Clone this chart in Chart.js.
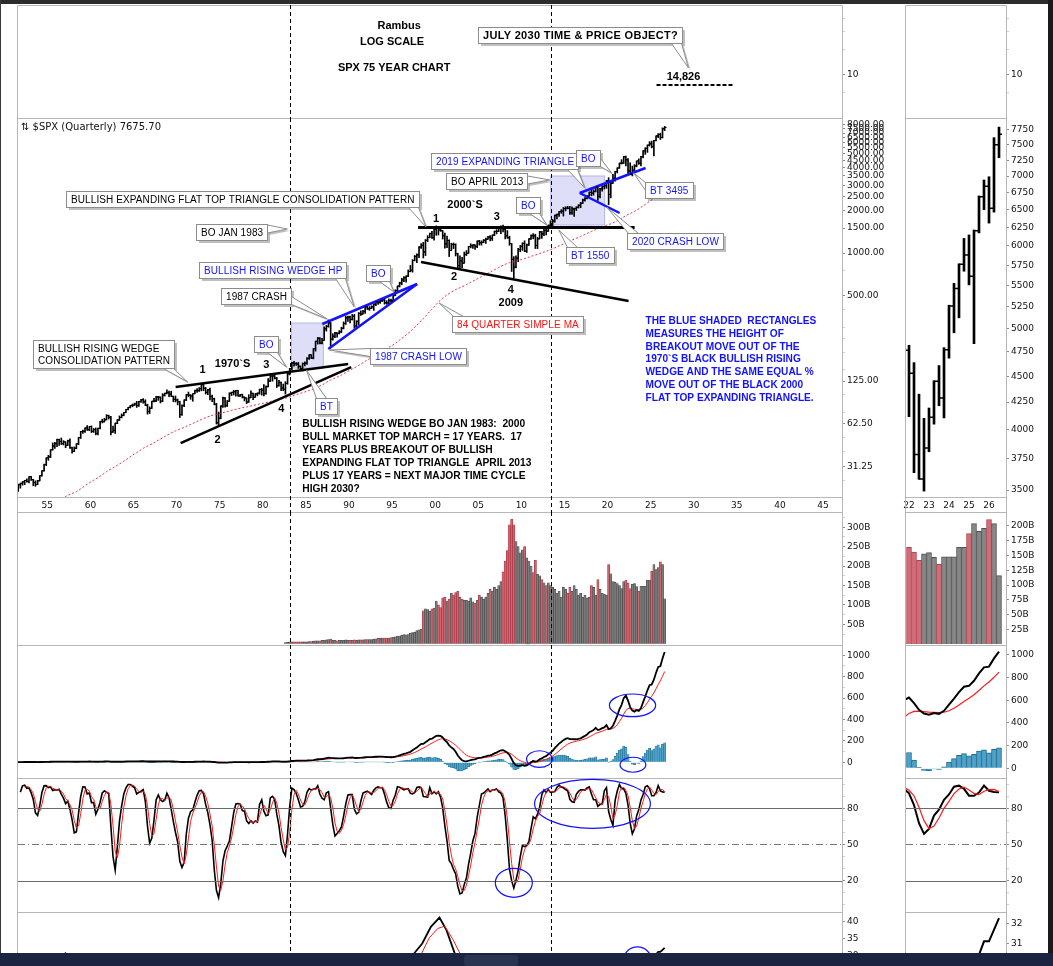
<!DOCTYPE html>
<html><head><meta charset="utf-8">
<script src="https://cdn.jsdelivr.net/npm/chart.js@4.4.0/dist/chart.umd.min.js"></script>
<style>
html,body{margin:0;padding:0;background:#fff;overflow:hidden;width:1053px;height:966px;}
#stage{position:absolute;left:0;top:0;width:1053px;height:966px;overflow:hidden;background:#fff;}
.blk{position:absolute;}
</style></head><body>
<div id="stage"></div>
<script>
// ================= DATA =================
// S&P 500 quarterly closes 1935-1947 (only used for the moving average / MACD warm-up)
const earlyClose = [
 9.0,10.3,11.9,13.4, 15.0,14.7,16.2,17.2, 18.1,15.5,14.0,10.6, 9.0,11.6,12.0,13.2,
 11.4,11.1,12.8,12.5, 12.2,10.0,10.6,10.6, 10.0,9.9,10.2,8.7, 8.3,8.3,8.9,9.8,
 11.6,12.3,12.2,11.7, 12.3,13.3,12.9,13.3, 13.5,15.1,15.8,17.4, 17.8,18.4,14.8,15.3,
 15.2,15.2,15.1,15.3
];
// quarterly close, 1948 Q1 .. 2026 Q3
const qClose = [
 15.1,16.7,15.5,15.2, 15.1,14.2,15.6,16.8, 17.3,17.7,19.5,20.4, 21.5,21.0,23.3,23.8,
 24.37,24.96,24.54,26.57, 25.29,24.14,23.35,24.81, 26.94,29.21,32.31,35.98, 36.58,41.03,43.67,45.48,
 48.48,46.97,45.35,46.67, 44.11,47.37,42.42,39.99, 42.10,45.24,50.06,55.21, 55.44,58.47,56.88,59.89,
 55.34,56.92,53.52,58.11, 65.06,64.64,66.73,71.55, 69.55,54.75,56.27,63.10, 66.57,69.37,71.70,75.02,
 78.98,81.69,84.18,84.75, 86.16,84.12,89.96,92.43, 89.23,84.74,76.56,80.33, 90.20,90.64,96.71,96.47,
 90.20,99.58,102.67,103.86, 101.51,97.71,93.12,92.06, 89.63,72.72,84.21,92.15, 100.31,99.70,98.34,102.09,
 107.20,107.14,110.55,118.05, 111.52,104.26,108.43,97.55, 93.98,86.00,63.54,68.56, 83.36,95.19,83.87,90.19,
 102.77,104.28,105.24,107.46, 98.42,100.48,96.53,95.10, 89.21,95.53,102.54,96.11, 101.59,102.91,109.32,107.94,
 102.09,114.24,125.46,135.76, 136.00,131.21,116.18,122.55, 111.96,109.61,120.42,140.64, 152.96,168.11,166.07,164.93,
 159.18,153.18,166.10,167.24, 180.66,191.85,182.08,211.28, 238.90,250.84,231.32,242.17, 291.70,304.00,321.83,247.08,
 258.89,273.50,271.91,277.72, 294.87,317.98,349.15,353.40, 339.94,358.02,306.05,330.22, 375.22,371.16,387.86,417.09,
 403.69,408.14,417.80,435.71, 451.67,450.53,458.93,466.45, 445.77,444.27,462.69,459.27, 500.71,544.75,584.41,615.93,
 645.50,670.63,687.31,740.74, 757.12,885.14,947.28,970.43, 1101.75,1133.84,1017.01,1229.23, 1286.37,1372.71,1282.71,1469.25,
 1498.58,1454.60,1436.51,1320.28, 1160.33,1224.42,1040.94,1148.08, 1147.39,989.82,815.28,879.82, 848.18,974.50,995.97,1111.92,
 1126.21,1140.84,1114.58,1211.92, 1180.59,1191.33,1228.81,1248.29, 1294.83,1270.20,1335.85,1418.30, 1420.86,1503.35,1526.75,1468.36,
 1322.70,1280.00,1166.36,903.25, 797.87,919.32,1057.08,1115.10, 1169.43,1030.71,1141.20,1257.64, 1325.83,1320.64,1131.42,1257.60,
 1408.47,1362.16,1440.67,1426.19, 1569.19,1606.28,1681.55,1848.36, 1872.34,1960.23,1972.29,2058.90, 2067.89,2063.11,1920.03,2043.94,
 2059.74,2098.86,2168.27,2238.83, 2362.72,2423.41,2519.36,2673.61, 2640.87,2718.37,2913.98,2506.85, 2834.40,2941.76,2976.74,3230.78,
 2584.59,3100.29,3363.00,3756.07, 3972.89,4297.50,4307.54,4766.18, 4530.41,3785.38,3585.62,3839.50, 4109.31,4450.38,4288.05,4769.83,
 5254.35,5460.48,5762.48,5881.63, 5611.85,6204.95,6688.46,6845.00, 6520.00,7500.00,7675.70
];
const qHigh = [
 15.4,17.1,16.9,16.2, 15.4,15.3,15.8,16.9, 17.6,19.4,19.6,20.6, 22.4,22.5,23.5,23.9,
 24.5,25.0,25.6,26.6, 26.7,25.4,24.8,25.0, 27.0,29.3,32.6,36.0, 37.5,41.1,45.9,46.4,
 48.9,48.9,49.7,47.6, 46.7,48.0,49.1,42.8, 43.0,45.3,50.1,55.3, 56.5,58.6,60.7,60.0,
 60.4,58.0,58.5,58.3, 65.1,67.4,68.5,72.6, 72.0,70.5,60.4,63.4, 67.0,71.1,73.5,75.1,
 79.1,81.7,84.3,86.3, 87.6,90.1,90.0,93.0, 94.1,92.4,86.0,82.4, 90.3,94.6,97.6,97.6,
 96.7,102.0,103.0,108.4, 106.2,106.2,98.0,98.3, 93.5,90.2,85.0,92.2, 100.6,104.8,100.4,102.2,
 108.0,110.7,112.6,119.1, 120.2,112.7,109.3,111.5, 99.8,95.0,87.1,75.7, 84.0,96.6,95.9,91.2,
 103.4,104.5,107.8,107.9, 107.5,101.1,101.3,97.0, 95.2,100.3,107.0,103.0, 102.0,103.2,109.7,111.3,
 118.4,116.0,130.4,141.0, 137.0,138.1,133.0,126.5, 123.0,119.3,124.0,143.0, 154.0,170.0,172.6,169.0,
 169.5,160.3,168.0,171.0, 183.6,192.0,192.3,212.0, 239.5,254.0,254.0,250.0, 301.9,310.0,337.9,323.0,
 270.0,276.0,274.0,284.0, 300.0,327.0,360.0,360.0, 360.0,369.0,369.0,333.0, 381.0,391.0,395.0,419.0,
 420.8,419.0,425.3,437.0, 456.0,455.6,463.6,471.0, 482.9,462.0,476.0,473.0, 503.0,551.0,586.0,623.0,
 664.0,681.0,690.0,760.0, 817.0,898.0,960.0,986.0, 1112,1163,1190,1244, 1326,1382,1420,1474,
 1553,1528,1531,1437, 1383,1316,1239,1173, 1177,1161,996,954, 932,1015,1040,1112.5,
 1163,1147,1141,1218, 1229,1219,1246,1275, 1311,1327,1340,1431, 1461,1540,1555,1576,
 1471,1440,1314,1167, 943,957,1080,1130, 1180,1220,1157,1263, 1344,1370,1356,1292,
 1420,1422,1474,1470, 1574,1687,1729,1849, 1884,1968,2019,2094, 2119,2134,2132,2116,
 2075,2120,2193,2278, 2401,2454,2520,2694, 2873,2791,2941,2940, 2861,2964,3028,3248,
 3394,3233,3588,3760, 3984,4302,4546,4808, 4818,4637,4325,4100, 4195,4455,4607,4793,
 5264,5524,5767,6100, 6147,6215,6700,6940, 6990,7620,7800
];
const qLow = [
 13.8,15.0,15.0,14.8, 14.4,13.6,14.1,15.5, 16.6,17.3,16.7,19.0, 20.3,20.9,20.9,22.0,
 23.1,23.3,24.3,24.0, 25.0,22.9,22.7,23.3, 24.8,26.8,29.0,31.7, 34.6,36.2,40.8,42.0,
 43.1,44.1,44.7,44.4, 42.4,43.9,42.0,38.9, 39.8,41.7,44.6,49.3, 53.6,54.4,56.2,55.9,
 54.3,54.4,52.3,52.2, 57.6,63.4,64.4,66.7, 67.6,52.3,54.5,53.5, 62.7,66.1,68.9,71.2,
 74.9,78.5,80.9,82.4, 84.2,81.6,83.1,88.5, 87.4,84.0,73.2,73.9, 80.2,89.2,89.5,91.5,
 87.7,89.5,98.1,101.6, 97.2,97.2,89.5,89.2, 85.0,69.3,71.8,82.5, 91.2,97.0,93.1,90.2,
 101.6,104.0,105.8,106.8, 107.0,101.4,100.5,92.2, 89.5,85.0,62.3,60.9, 67.8,81.7,82.1,82.9,
 89.9,98.9,99.9,97.8, 97.8,97.6,95.1,90.7, 86.9,88.5,95.5,92.5, 96.1,98.4,101.2,99.6,
 98.2,101.2,113.8,124.2, 125.0,129.5,112.8,115.3, 107.3,107.0,101.4,118.9, 138.3,149.9,159.2,161.5,
 153.6,147.8,147.3,160.0, 163.7,178.0,180.0,179.5, 203.5,228.0,228.5,229.0, 242.0,281.5,300.0,216.5,
 243.0,253.0,255.0,269.0, 275.0,292.0,314.0,330.0, 322.0,337.0,295.0,294.5, 311.0,363.0,371.0,375.0,
 400.0,394.5,405.0,394.0, 425.0,433.5,441.4,456.0, 436.0,435.9,441.0,445.0, 457.0,500.0,543.0,576.0,
 597.0,627.0,624.0,682.0, 737.0,733.0,880.0,855.0, 927,1076,923,959, 1205,1279,1268,1233,
 1333,1339,1421,1254, 1081,1091,944,1038, 1074,953,775,768, 788,847,960,995,
 1087,1077,1060,1090, 1137,1136,1184,1168, 1245,1219,1225,1325, 1364,1416,1370,1407,
 1257,1270,1133,741, 667,784,869,1020, 1044,1022,1010,1131, 1249,1259,1075,1074,
 1257,1267,1325,1343, 1420,1536,1560,1647, 1737,1814,1904,1821, 1981,2044,1867,1872,
 1810,1992,2074,2084, 2234,2322,2405,2515, 2533,2553,2691,2347, 2444,2729,2822,2855,
 2192,2447,3095,3210, 3662,3954,4234,4279, 4115,3637,3584,3492, 3809,4048,4216,4104,
 4683,4953,5119,5674, 5505,4835,6175,6500, 6310,6465,7290
];
// quarterly volume (billions), 1982 Q3 .. 2026 Q3
const volumeB = [
 3,4, 5,5,5,5, 5,5,5,5, 5,6,6,7, 8,8,8,9, 9,10,11,12, 9,9,8,9, 9,9,10,9, 9,9,10,9,
 10,10,10,11, 11,11,11,12, 13,14,14,15, 15,15,15,16, 17,18,20,20, 22,24,23,24, 27,29,30,34,
 36,38,85,90, 88,84,90,92, 110,100,93,118, 120,110,115,130, 125,132,135,120, 115,112,112,110,
 118,108,105,112, 125,120,115,120, 130,140,135,145, 140,150,160,185, 213,240,306,321,
 306,263,250,234, 242,250,221,213, 200,183,215,179, 175,165,157,150, 157,150,145,140,
 130,135,120,145, 140,130,145,135, 150,140,125,130, 120,125,118,120, 150,145,125,165,
 140,130,128,125, 204,180,160,158, 155,150,142,160, 164,156,142,153, 155,147,135,148,
 148,148,164,164, 187,204,191,196, 211,204,116
];
// lower indicator panel: year positions and values
const lowerYears = [1951, 1954, 1956.5, 1957.1, 1957.6, 1960, 1965, 1970, 1975, 1980, 1985, 1990, 1995,
  1997.5, 1998.5, 1999.5, 2000.5, 2001.3, 2002.3, 2003.5, 2007, 2009, 2012, 2015, 2018, 2020, 2022,
  2023.5, 2025.0, 2025.625, 2025.875, 2026.125, 2026.625];
const lowerBlack = [24, 27, 29.5, 30.7, 28.5, 26, 27, 22, 12, 10, 15, 19, 24,
  30.5, 33.6, 38.5, 41.2, 37.6, 30.5, 26, 27, 16, 22, 26, 28, 27, 29,
  27, 29.5, 30.4, 31.1, 31.1, 32.3];
const lowerRedYears = [1951, 1960, 1970, 1980, 1990, 1995, 1997, 1998.3, 1999.3, 2000.3, 2001.1, 2002.1, 2003.0,
  2005, 2010, 2015, 2020, 2024, 2026.625];
const lowerRed = [23, 25, 22, 11, 17, 22, 27, 30, 35.2, 38, 38.7, 34.6, 30, 26, 20, 24, 26, 27, 29];

// tick labels
const mainYearTicks = [1955,1960,1965,1970,1975,1980,1985,1990,1995,2000,2005,2010,2015,2020,2025,2030,2035,2040,2045];
const insetYearTicks = [2022,2023,2024,2025,2026];
const priceTickVals = [31.25,62.5,125,500,1000,1500,2000,2500,3000,3500,4000,4500,5000,5500,6000,6500,7000,7500,8000];
const insetPriceTickVals = [3500,3750,4000,4250,4500,4750,5000,5250,5500,5750,6000,6250,6500,6750,7000,7250,7500,7750];
const volTickVals = [50,100,150,200,250,300];
const insetVolTickVals = [25,50,75,100,125,150,175,200];
const macdTickVals = [0,200,400,600,800,1000];
const stochTickVals = [20,50,80];
const lowerTickVals = [30,35,40];
const insetLowerTickVals = [30,31,32];

// ================= DERIVED SERIES =================
const allClose = earlyClose.concat(qClose);
const N = allClose.length;
const hl0 = earlyClose.length;                 // index of 1948 Q1
const qx = i => 1935 + Math.floor(i / 4) + (i % 4) * 0.25 + 0.125;   // mid-quarter position
const ALLX = allClose.map((_, i) => qx(i));

function emaOf(arr, n) { const k = 2 / (n + 1); const out = []; let e = arr[0];
  arr.forEach((v, i) => { e = i === 0 ? v : v * k + e * (1 - k); out.push(e); }); return out; }
const ema12 = emaOf(allClose, 12), ema26 = emaOf(allClose, 26);
const macd = ema12.map((v, i) => v - ema26[i]);
const signal = emaOf(macd, 9);
const hist = macd.map((v, i) => v - signal[i]);
const sma84 = [];
for (let i = 83; i < N; i++) { let s = 0; for (let j = i - 83; j <= i; j++) s += allClose[j]; sma84.push({x: ALLX[i], y: s / 84}); }
const fastK = new Array(N).fill(null), slowK = new Array(N).fill(null), slowD = new Array(N).fill(null);
for (let i = hl0 + 13; i < N; i++) { let hh = -1e9, ll = 1e9;
  for (let j = i - 13; j <= i; j++) { hh = Math.max(hh, qHigh[j - hl0]); ll = Math.min(ll, qLow[j - hl0]); }
  fastK[i] = (allClose[i] - ll) / (hh - ll) * 100; }
for (let i = 2; i < N; i++) { if (fastK[i-2] != null) slowK[i] = (fastK[i] + fastK[i-1] + fastK[i-2]) / 3; }
for (let i = 2; i < N; i++) { if (slowK[i-2] != null) slowD[i] = (slowK[i] + slowK[i-1] + slowK[i-2]) / 3; }
const pts = (arr, from) => { const o = []; for (let i = from || 0; i < N; i++) if (arr[i] != null) o.push({x: ALLX[i], y: arr[i]}); return o; };
const volStart = (1982 - 1935) * 4 + 2;
const volIsDown = volumeB.map((v, k) => allClose[volStart + k] < allClose[volStart + k - 1]);

// ================= PLUGINS =================
const CFG = {};
const BLUE = '#1212ff', RED = '#ff1414';
const FONT = '"Liberation Sans", Arial, sans-serif';
const framePlugin = { id: 'frame', afterDatasetsDraw(chart) {
  const cfg = CFG[chart.canvas.id]; const a = chart.chartArea, ctx = chart.ctx;
  ctx.save(); ctx.strokeStyle = '#b7b7b7'; ctx.lineWidth = 1; ctx.beginPath();
  const L = Math.round(a.left) - 0.5, R = Math.round(a.right) + 0.5, T = Math.round(a.top) + 0.5, B = Math.round(a.bottom) - 0.5;
  ctx.moveTo(L, B + 20); ctx.lineTo(L, T); ctx.lineTo(R, T); ctx.lineTo(R, B + 20);
  if (cfg.bottomEdge) { ctx.moveTo(L, B); ctx.lineTo(R, B); }
  ctx.stroke();
  if (cfg.legend) { ctx.font = '10px "DejaVu Sans"'; ctx.fillStyle = '#111'; ctx.textBaseline = 'middle'; ctx.fillText(cfg.legend, a.left + 3, a.top + 9); }
  ctx.restore(); } };
function drawCallout(ctx, n, X, Y) {
  ctx.font = n.f || ('10px ' + FONT); ctx.letterSpacing = n.ls || '0.1px';
  const lines = Array.isArray(n.s) ? n.s : [n.s]; const lh = 12;
  const tw = Math.max(...lines.map(l => ctx.measureText(l).width));
  const w = Math.round(tw + 9), h = Math.round(lines.length * lh + 4);
  const L = Math.round(X(n.x)) + 0.5, T = Math.round(Y(n.y)) + 0.5, R = L + w, B = T + h;
  const tx = X(n.tx), ty = Y(n.ty);
  const outX = tx < L ? L - tx : (tx > R ? tx - R : 0), outY = ty < T ? T - ty : (ty > B ? ty - B : 0);
  let p1, p2;
  if (outY >= outX) { const ey = ty > B ? B : T; const cx = Math.min(Math.max(tx, L + 6), R - 6); p1 = [cx - 5, ey]; p2 = [cx + 5, ey]; }
  else { const ex = tx > R ? R : L; const cy = Math.min(Math.max(ty, T + 4), B - 4); p1 = [ex, cy - 4]; p2 = [ex, cy + 4]; }
  ctx.fillStyle = 'rgba(0,0,0,0.25)'; ctx.fillRect(L + 2.5, T + 2.5, w, h);
  ctx.beginPath(); ctx.moveTo(p1[0] + 2, p1[1] + 2); ctx.lineTo(tx + 2, ty + 2); ctx.lineTo(p2[0] + 2, p2[1] + 2); ctx.closePath(); ctx.fill();
  ctx.fillStyle = '#fff'; ctx.strokeStyle = '#8c8c8c'; ctx.lineWidth = 1;
  ctx.beginPath(); ctx.moveTo(p1[0], p1[1]); ctx.lineTo(tx, ty); ctx.lineTo(p2[0], p2[1]); ctx.closePath(); ctx.fill(); ctx.stroke();
  ctx.fillRect(L, T, w, h); ctx.strokeRect(L, T, w, h);
  ctx.fillStyle = n.c || '#000'; ctx.textBaseline = 'middle'; ctx.textAlign = 'left';
  lines.forEach((l, i) => ctx.fillText(l, L + 4.5, T + 2.5 + lh * (i + 0.5)));
}
function drawNotes(chart, below) {
  const cfg = CFG[chart.canvas.id]; if (!cfg) return;
  const ctx = chart.ctx, a = chart.chartArea, xs = chart.scales.x, ys = chart.scales.y;
  const X = v => xs.getPixelForValue(v), Y = v => ys.getPixelForValue(v);
  for (const n of cfg.notes) {
    if ((n.t === 'rect') !== below) continue;
    ctx.save();
    if (n.t === 'rect') {
      const x1 = X(n.x1), x2 = X(n.x2), y1 = Y(n.y1), y2 = Y(n.y2);
      ctx.fillStyle = 'rgba(205,205,245,0.65)'; ctx.strokeStyle = '#b4b4ea'; ctx.lineWidth = 1;
      ctx.fillRect(x1, y2, x2 - x1, y1 - y2); ctx.strokeRect(x1, y2, x2 - x1, y1 - y2);
    } else if (n.t === 'vdash') {
      const x = Math.round(X(n.x)) + 0.5; ctx.strokeStyle = '#000'; ctx.lineWidth = 1; ctx.setLineDash([4, 3]);
      ctx.beginPath(); ctx.moveTo(x, a.top); ctx.lineTo(x, a.bottom + cfg.extraBottom); ctx.stroke();
    } else if (n.t === 'hline') {
      const y = Math.round(Y(n.y)) + 0.5; ctx.strokeStyle = n.c || '#666'; ctx.lineWidth = 1; if (n.dash) ctx.setLineDash(n.dash);
      ctx.beginPath(); ctx.moveTo(a.left, y); ctx.lineTo(a.right, y); ctx.stroke();
    } else if (n.t === 'hdash') {
      const y = Math.round(Y(n.y)); ctx.strokeStyle = '#000'; ctx.lineWidth = 2; ctx.setLineDash([4, 2]);
      ctx.beginPath(); ctx.moveTo(X(n.x1), y); ctx.lineTo(X(n.x2), y); ctx.stroke();
    } else if (n.t === 'line') {
      ctx.strokeStyle = n.c; ctx.lineWidth = n.w; ctx.lineCap = 'butt';
      ctx.beginPath(); ctx.moveTo(X(n.x1), Y(n.y1)); ctx.lineTo(X(n.x2), Y(n.y2)); ctx.stroke();
    } else if (n.t === 'ellipse') {
      ctx.beginPath(); ctx.rect(a.left, a.top, a.right - a.left, a.bottom - a.top); ctx.clip();
      const x1 = X(n.x1), x2 = X(n.x2), y1 = Y(n.y1), y2 = Y(n.y2);
      ctx.strokeStyle = BLUE; ctx.lineWidth = 1.2; ctx.beginPath();
      ctx.ellipse((x1 + x2) / 2, (y1 + y2) / 2, Math.abs(x2 - x1) / 2, Math.abs(y2 - y1) / 2, 0, 0, Math.PI * 2); ctx.stroke();
    } else if (n.t === 'text') {
      ctx.font = n.f; ctx.fillStyle = n.c || '#000'; ctx.textAlign = 'center'; ctx.textBaseline = 'middle';
      ctx.fillText(n.s, X(n.x), Y(n.y));
    } else if (n.t === 'para') {
      ctx.font = n.f; ctx.fillStyle = n.c || '#000'; ctx.textAlign = 'left'; ctx.textBaseline = 'middle';
      const x0 = X(n.x), y0 = Y(n.y);
      n.s.forEach((l, i) => { ctx.save(); ctx.translate(x0, y0 + i * n.lh); ctx.scale(n.sq || 1, 1); ctx.fillText(l, 0, 0); ctx.restore(); });
    } else if (n.t === 'callout') {
      drawCallout(ctx, n, X, Y);
    }
    ctx.restore();
  }
}
const notesPlugin = { id: 'notes', beforeDatasetsDraw(c) { drawNotes(c, true); }, afterDatasetsDraw(c) { drawNotes(c, false); } };
const ohlcPlugin = { id: 'ohlcTicks', afterDatasetsDraw(chart) {
  const o = CFG[chart.canvas.id].ohlc; if (!o) return;
  const {ctx, chartArea: a} = chart; const xs = chart.scales.x, ys = chart.scales.y;
  ctx.save(); ctx.beginPath(); ctx.rect(a.left, a.top, a.right - a.left, a.bottom - a.top); ctx.clip();
  ctx.strokeStyle = '#000'; ctx.lineWidth = o.lw; ctx.beginPath();
  o.x.forEach((xv, i) => { const px = xs.getPixelForValue(xv); if (px < a.left - 5 || px > a.right + 5) return;
    const yo = ys.getPixelForValue(o.open[i]), yc = ys.getPixelForValue(o.close[i]);
    ctx.moveTo(px - o.len, yo); ctx.lineTo(px, yo); ctx.moveTo(px, yc); ctx.lineTo(px + o.len, yc); });
  ctx.stroke(); ctx.restore(); } };

// ================= LAYOUT =================
const MAINCOL = {left: 0, width: 900, al: 18, ar: 842, xMin: 1951.6, xMax: 2047.2,
  xTicks: mainYearTicks, xLabel: v => String(Math.round(v) % 100).padStart(2, '0')};
const INSETCOL = {left: 895, width: 153, al: 906, ar: 1006, xMin: 2021.975, xMax: 2026.975,
  xTicks: insetYearTicks.map(y => y + 0.125), xLabel: v => String(Math.floor(v) % 100).padStart(2, '0')};
const ROWS = {top: {t: 5, b: 118}, price: {t: 118, b: 498}, vol: {t: 512, b: 645}, macd: {t: 645, b: 778}, stoch: {t: 778, b: 912}, low: {t: 912, b: 966}};
const AXF = {family: 'DejaVu Sans', size: 9};
let cid = 0;
function panel(col, row, o) {
  const M = 8, xh = o.xLabels ? 14 : 0, id = 'cv' + (cid++);
  const c = document.createElement('canvas'); c.id = id;
  const H = row.b - row.t + xh + 2 * M;
  c.width = col.width; c.height = H;
  c.style.cssText = `position:absolute;left:${col.left}px;top:${row.t - M}px;width:${col.width}px;height:${H}px;`;
  document.getElementById('stage').appendChild(c);
  CFG[id] = {notes: o.notes || [], extraBottom: xh, ohlc: o.ohlc || null, legend: o.legend || null, bottomEdge: !!o.bottomEdge};
  const yW = col.left + col.width - col.ar;
  return new Chart(c, {
    type: 'bar', data: {datasets: o.datasets || []},
    options: {
      responsive: false, animation: false, devicePixelRatio: 1, events: [],
      layout: {padding: {left: col.al - col.left, right: 0, top: M, bottom: M}},
      plugins: {legend: {display: false}, tooltip: {enabled: false}},
      scales: {
        x: {type: 'linear', min: col.xMin, max: col.xMax, display: !!o.xLabels, offset: false,
          grid: {display: false, drawTicks: false, tickLength: 0}, border: {display: false},
          afterBuildTicks: s => { s.ticks = col.xTicks.map(v => ({value: v})); },
          afterFit: s => { s.height = xh; },
          ticks: {autoSkip: false, maxRotation: 0, minRotation: 0, padding: 2, font: AXF, color: '#111', callback: v => col.xLabel(v)}},
        y: {type: o.yType || 'linear', position: 'right', min: o.yMin, max: o.yMax,
          afterBuildTicks: s => { s.ticks = o.yTicks.map(t => ({value: t[0], txt: t[1]})); },
          afterFit: s => { s.width = yW; },
          grid: {drawOnChartArea: false, drawTicks: true, tickLength: 3, tickColor: ctx => (ctx.tick && ctx.tick.txt) ? '#8c8c8c' : '#d0d0d0'},
          border: {display: false},
          ticks: {autoSkip: false, padding: 2, font: AXF, color: '#111', callback: (v, i, t) => t[i].txt || ''}}
      }
    },
    plugins: [framePlugin, notesPlugin, ohlcPlugin]
  });
}
const lineDS = (data, color, w, extra) => Object.assign({type: 'line', data, borderColor: color, borderWidth: w, pointRadius: 0, tension: 0, fill: false}, extra || {});
const VD = [{t: 'vdash', x: 1983.1}, {t: 'vdash', x: 2013.4}];
const minor = (vals, step, lo, hi) => { const o = []; for (let v = lo; v <= hi; v += step) if (!vals.includes(v)) o.push([v, '']); return o; };

// ---------- top (empty) panels ----------
const FB11 = 'bold 11px ' + FONT, FB10 = 'bold 10px ' + FONT;
panel(MAINCOL, ROWS.top, {yType: 'logarithmic', yMin: 5, yMax: 30.9, yTicks: [[10, '10'], [7.5, ''], [15, ''], [20, ''], [25, '']],
  notes: VD.concat([
    {t: 'text', x: 1995.82, y: 22.0, s: 'Rambus', f: FB11},
    {t: 'text', x: 1995.0, y: 17.0, s: 'LOG SCALE', f: FB11},
    {t: 'text', x: 1995.24, y: 11.19, s: 'SPX 75 YEAR CHART', f: FB11},
    {t: 'callout', x: 2004.96, y: 21.7, tx: 2029.39, ty: 11.19, s: 'JULY 2030 TIME & PRICE OBJECT?', f: FB11, ls: '0.3px'},
    {t: 'text', x: 2028.81, y: 9.68, s: '14,826', f: FB11},
    {t: 'hdash', x1: 2025.68, x2: 2034.6, y: 8.51}
  ])});
panel(INSETCOL, ROWS.top, {yType: 'logarithmic', yMin: 5, yMax: 30.9, yTicks: [[10, '10'], [7.5, ''], [15, ''], [20, ''], [25, '']]});

// ---------- price panels ----------
const priceBars = qClose.map((c, k) => ({x: ALLX[hl0 + k], y: [qLow[k], qHigh[k]]}));
const priceOpen = qClose.map((c, k) => allClose[hl0 + k - 1]);
const priceNotes = [
  {t: 'rect', x1: 1983.32, y1: 154.7, x2: 1987.02, y2: 321},
  {t: 'rect', x1: 2013.41, y1: 1575, x2: 2019.66, y2: 3488},
  ...VD,
  {t: 'line', x1: 1969.89, y1: 113.7, x2: 1989.91, y2: 165.1, c: '#000', w: 2.5},
  {t: 'line', x1: 1970.47, y1: 45.8, x2: 1990.26, y2: 157.2, c: '#000', w: 2.5},
  {t: 'line', x1: 1998.02, y1: 1510, x2: 2023.14, y2: 1510, c: '#000', w: 3},
  {t: 'line', x1: 1998.36, y1: 864.5, x2: 2022.44, y2: 459, c: '#000', w: 2.5},
  {t: 'line', x1: 1986.91, y1: 316, x2: 1997.9, y2: 604.7, c: BLUE, w: 2.5},
  {t: 'line', x1: 1987.6, y1: 210.6, x2: 1997.9, y2: 604.7, c: BLUE, w: 2.5},
  {t: 'line', x1: 2016.77, y1: 2648, x2: 2024.41, y2: 3972, c: BLUE, w: 2.5},
  {t: 'line', x1: 2016.77, y1: 2648, x2: 2021.4, y2: 1914, c: BLUE, w: 2.5},
  {t: 'text', x: 2003.46, y: 2179, s: '2000`S', f: FB11},
  {t: 'text', x: 2000.1, y: 1736, s: '1', f: FB11},
  {t: 'text', x: 2007.16, y: 1793, s: '3', f: FB11},
  {t: 'text', x: 2002.18, y: 677, s: '2', f: FB11},
  {t: 'text', x: 2008.78, y: 548.8, s: '4', f: FB11},
  {t: 'text', x: 2008.78, y: 444.4, s: '2009', f: FB11},
  {t: 'text', x: 1973.01, y: 149.8, s: '1', f: FB11},
  {t: 'text', x: 1976.49, y: 165.1, s: '1970`S', f: FB11},
  {t: 'text', x: 1980.42, y: 162.5, s: '3', f: FB11},
  {t: 'text', x: 1974.75, y: 48.1, s: '2', f: FB11},
  {t: 'text', x: 1982.16, y: 79.6, s: '4', f: FB11},
  {t: 'callout', x: 1957.16, y: 2735, tx: 1998.94, ty: 1525, s: 'BULLISH EXPANDING FLAT TOP TRIANGLE CONSOLIDATION PATTERN'},
  {t: 'callout', x: 1972.2, y: 1601, tx: 1982.85, ty: 1476, s: 'BO JAN 1983'},
  {t: 'callout', x: 1972.55, y: 864.5, tx: 1990.61, ty: 416.5, s: 'BULLISH RISING WEDGE HP', c: BLUE},
  {t: 'callout', x: 1992.0, y: 823, tx: 1995.24, ty: 531, s: 'BO', c: BLUE},
  {t: 'callout', x: 1975.1, y: 567, tx: 1987.48, ty: 342.7, s: '1987 CRASH'},
  {t: 'callout', x: 1953.34, y: 243.8, tx: 1971.28, ty: 123.3, s: ['BULLISH RISING WEDGE', 'CONSOLIDATION PATTERN']},
  {t: 'callout', x: 1979.03, y: 260.1, tx: 1982.74, ty: 157.2, s: 'BO', c: BLUE},
  {t: 'callout', x: 1992.46, y: 214.0, tx: 1987.72, ty: 207.2, s: '1987 CRASH LOW', c: BLUE},
  {t: 'callout', x: 1986.09, y: 95.1, tx: 1985.05, ty: 149.8, s: 'BT', c: BLUE},
  {t: 'callout', x: 2001.95, y: 359.8, tx: 2000.45, ty: 444.4, s: '84 QUARTER SIMPLE MA', c: RED},
  {t: 'callout', x: 2009.36, y: 2481, tx: 2012.95, ty: 1575, s: 'BO', c: BLUE},
  {t: 'callout', x: 2001.26, y: 3663, tx: 2013.3, ty: 3270, s: 'BO APRIL 2013'},
  {t: 'callout', x: 1999.52, y: 5068, tx: 2017.35, ty: 2872, s: '2019 EXPANDING TRIANGLE', c: BLUE},
  {t: 'callout', x: 2016.31, y: 5319, tx: 2020.47, ty: 3663, s: 'BO', c: BLUE},
  {t: 'callout', x: 2024.29, y: 3166, tx: 2023.02, ty: 3663, s: 'BT 3495', c: BLUE},
  {t: 'callout', x: 2022.21, y: 1384, tx: 2019.89, ty: 2110, s: '2020 CRASH LOW', c: BLUE},
  {t: 'callout', x: 2015.15, y: 1102, tx: 2014.34, ty: 1452, s: 'BT 1550', c: BLUE},
  {t: 'para', x: 1984.59, y: 62.4, lh: 13, f: FB11, sq: 0.93, c: '#000', s: [
    'BULLISH RISING WEDGE BO JAN 1983:  2000', 'BULL MARKET TOP MARCH = 17 YEARS.  17', 'YEARS PLUS BREAKOUT OF BULLISH',
    'EXPANDING FLAT TOP TRIANGLE  APRIL 2013', 'PLUS 17 YEARS = NEXT MAJOR TIME CYCLE', 'HIGH 2030?']},
  {t: 'para', x: 2024.41, y: 331.7, lh: 12.8, f: FB11, sq: 0.92, c: BLUE, s: [
    'THE BLUE SHADED  RECTANGLES', 'MEASURES THE HEIGHT OF', 'BREAKOUT MOVE OUT OF THE', '1970`S BLACK BULLISH RISING',
    'WEDGE AND THE SAME EQUAL %', 'MOVE OUT OF THE BLACK 2000', 'FLAT TOP EXPANDING TRIANGLE.']}
];
panel(MAINCOL, ROWS.price, {xLabels: true, bottomEdge: true, yType: 'logarithmic', yMin: 18.77, yMax: 8942,
  yTicks: priceTickVals.map(v => [v, v.toFixed(2)]).concat([[25, ''], [40, ''], [50, ''], [75, ''], [100, ''], [150, ''], [200, ''], [250, ''], [300, ''], [400, ''], [750, '']]),
  legend: '\u21c5 $SPX (Quarterly) 7675.70',
  ohlc: {x: priceBars.map(p => p.x), open: priceOpen, close: qClose, len: 2, lw: 1},
  datasets: [
    {type: 'bar', data: priceBars, backgroundColor: '#000', borderWidth: 0, barThickness: 1, grouped: false, order: 2},
    lineDS(sma84, '#ee2a3a', 1, {borderDash: [2, 2], order: 1})
  ],
  notes: priceNotes});
const i22 = (2022 - 1948) * 4;
panel(INSETCOL, ROWS.price, {xLabels: true, bottomEdge: true, yType: 'logarithmic', yMin: 3439, yMax: 7958,
  yTicks: insetPriceTickVals.map(v => [v, String(v)]),
  ohlc: {x: priceBars.slice(i22).map(p => p.x), open: priceOpen.slice(i22), close: qClose.slice(i22), len: 3, lw: 1.5},
  datasets: [{type: 'bar', data: priceBars.slice(i22), backgroundColor: '#000', borderWidth: 0, barThickness: 2, grouped: false}]});

// ---------- volume panels ----------
const volData = volumeB.map((v, k) => ({x: ALLX[volStart + k], y: v}));
const volFill = volIsDown.map(d => d ? '#d0646f' : '#7c7c7c'), volLine = volIsDown.map(d => d ? '#a8303e' : '#474747');
panel(MAINCOL, ROWS.vol, {yMin: -3, yMax: 339, yTicks: volTickVals.map(v => [v, v + 'B']).concat(minor(volTickVals, 25, 25, 325)), notes: VD,
  datasets: [{type: 'bar', data: volData, backgroundColor: volFill, borderColor: volLine, borderWidth: 0.6, categoryPercentage: 1, barPercentage: 1, grouped: false}]});
const vi = (2022 - 1982) * 4 - 2;
panel(INSETCOL, ROWS.vol, {yMin: -1.5, yMax: 223.7, yTicks: insetVolTickVals.map(v => [v, v + 'B']),
  datasets: [{type: 'bar', data: volData.slice(vi), backgroundColor: volFill.slice(vi).map(c => c === '#7c7c7c' ? '#878787' : '#cf6e78'),
    borderColor: volLine.slice(vi).map(c => c === '#474747' ? '#505050' : '#b8404c'), borderWidth: 1, categoryPercentage: 1, barPercentage: 1, grouped: false}]});

// ---------- MACD panels ----------
const macdPts = pts(macd), sigPts = pts(signal), histPts = pts(hist);
panel(MAINCOL, ROWS.macd, {yMin: -146.7, yMax: 1096, yTicks: macdTickVals.map(v => [v, String(v)]).concat(minor(macdTickVals, 100, 100, 900)),
  notes: VD.concat([
    {t: 'ellipse', x1: 2010.6, x2: 2013.6, y1: -47, y2: 108},
    {t: 'ellipse', x1: 2020.21, x2: 2025.58, y1: 426, y2: 638},
    {t: 'ellipse', x1: 2021.45, x2: 2024.44, y1: -93, y2: 47}]),
  datasets: [
    {type: 'bar', data: histPts, backgroundColor: '#4ea2ca', borderColor: '#1d6c8e', borderWidth: 0.5, categoryPercentage: 1, barPercentage: 1, grouped: false, order: 3},
    lineDS(sigPts, '#ff1a1a', 1, {order: 2}),
    lineDS(macdPts, '#000', 1.8, {order: 1})]});
panel(INSETCOL, ROWS.macd, {yMin: -85.6, yMax: 1088, yTicks: macdTickVals.map(v => [v, String(v)]),
  datasets: [
    {type: 'bar', data: histPts.filter(p => p.x > 2021.9), backgroundColor: '#4ea2ca', borderColor: '#1d6c8e', borderWidth: 1, categoryPercentage: 1, barPercentage: 1, grouped: false, order: 3},
    lineDS(sigPts, '#ff1a1a', 1.2, {order: 2}),
    lineDS(macdPts, '#000', 2, {order: 1})]});

// ---------- stochastic panels ----------
const stochLines = [{t: 'hline', y: 80, c: '#6a6a6a'}, {t: 'hline', y: 20, c: '#6a6a6a'}, {t: 'hline', y: 50, c: '#777', dash: [7, 3, 1, 3]}];
panel(MAINCOL, ROWS.stoch, {yMin: -6, yMax: 105.1, yTicks: stochTickVals.map(v => [v, String(v)]).concat(minor(stochTickVals, 10, 0, 100)),
  notes: VD.concat(stochLines, [
    {t: 'ellipse', x1: 2006.98, x2: 2011.27, y1: 6.2, y2: 30.2},
    {t: 'ellipse', x1: 2011.53, x2: 2024.97, y1: 63.4, y2: 104}]),
  datasets: [lineDS(pts(slowD), '#ff1a1a', 1), lineDS(pts(slowK), '#000', 1.6)]});
panel(INSETCOL, ROWS.stoch, {yMin: -6, yMax: 105.1, yTicks: stochTickVals.map(v => [v, String(v)]).concat(minor(stochTickVals, 10, 0, 100)),
  notes: stochLines,
  datasets: [lineDS(pts(slowD), '#ff1a1a', 1.2), lineDS(pts(slowK), '#000', 2)]});

// ---------- lower indicator panels ----------
const lowB = lowerYears.map((x, i) => ({x, y: lowerBlack[i]})), lowR = lowerRedYears.map((x, i) => ({x, y: lowerRed[i]}));
panel(MAINCOL, ROWS.low, {yMin: 26.97, yMax: 42.85, yTicks: lowerTickVals.map(v => [v, String(v)]),
  notes: VD.concat([{t: 'ellipse', x1: 2021.86, x2: 2025.07, y1: 24.9, y2: 32.6}]),
  datasets: [lineDS(lowR, '#ff1a1a', 1), lineDS(lowB, '#000', 1.8)]});
panel(INSETCOL, ROWS.low, {yMin: 29.82, yMax: 32.62, yTicks: insetLowerTickVals.map(v => [v, String(v)]),
  datasets: [lineDS(lowR, '#ff1a1a', 1.2), lineDS(lowB, '#000', 2)]});

// window chrome around the chart image
const stage = document.getElementById('stage');
[['0px', '0px', '1053px', '4px', '#2c2c2c'], ['0px', '0px', '1px', '966px', '#3a3a3a'], ['1048px', '0px', '5px', '966px', '#1a1a1a'],
 ['0px', '953px', '1053px', '13px', '#1b2440']].forEach(b => {
  const d = document.createElement('div'); d.className = 'blk';
  d.style.cssText = `position:absolute;left:${b[0]};top:${b[1]};width:${b[2]};height:${b[3]};background:${b[4]};`; stage.appendChild(d); });
const btn = document.createElement('div');
btn.style.cssText = 'position:absolute;left:464px;top:955px;width:54px;height:11px;background:#2a3350;border-radius:3px;';
stage.appendChild(btn);
</script>
</body></html>
